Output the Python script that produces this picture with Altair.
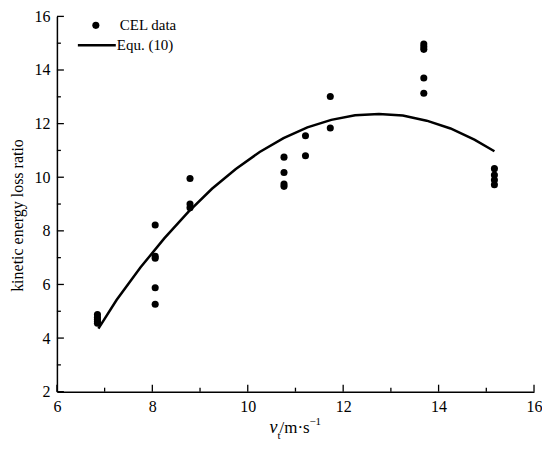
import altair as alt
import pandas as pd

# CEL data points
cel_x = [6.85, 6.85, 6.85, 6.85, 6.85,
         8.06, 8.06, 8.06, 8.06, 8.06,
         8.79, 8.79, 8.79,
         10.76, 10.76, 10.76, 10.76,
         11.21, 11.21,
         11.73, 11.73,
         13.69, 13.69, 13.69, 13.69, 13.69,
         15.17, 15.17, 15.17, 15.17]
cel_y = [4.88, 4.78, 4.70, 4.62, 4.55,
         8.22, 7.05, 6.98, 5.88, 5.26,
         9.95, 9.00, 8.86,
         10.75, 10.18, 9.75, 9.66,
         11.55, 10.80,
         13.01, 11.84,
         14.97, 14.87, 14.77, 13.70, 13.13,
         10.32, 10.08, 9.90, 9.72]

# Equ. (10) curve
equ_x = [6.87, 7.25, 7.75, 8.25, 8.75, 9.25, 9.75, 10.25, 10.75, 11.25,
         11.75, 12.25, 12.75, 13.25, 13.75, 14.25, 14.75, 15.17]
equ_y = [4.35, 5.42, 6.63, 7.72, 8.70, 9.57, 10.31, 10.94, 11.46, 11.86,
         12.14, 12.31, 12.36, 12.30, 12.11, 11.82, 11.40, 10.97]

# axis tick values
x_major = [6, 8, 10, 12, 14, 16]
x_minor = [7, 9, 11, 13, 15]
y_major = [2, 4, 6, 8, 10, 12, 14, 16]
y_minor = [3, 5, 7, 9, 11, 13, 15]

# legend labels and x-axis title pieces (v, subscript t, unit, superscript)
legend_labels = ["CEL data", "Equ. (10)"]
x_title_parts = ["v", "t", "/m·s", "−1"]
YT = "kinetic energy loss ratio"

W, H = 478, 376
FONT = "Liberation Serif"

xscale = alt.Scale(domain=[6, 16], nice=False, zero=False)
yscale = alt.Scale(domain=[2, 16], nice=False, zero=False)

xaxis = alt.Axis(values=x_major, format="d", ticks=False, tickSize=0, labelPadding=7,
                 labelFlush=False)
yaxis = alt.Axis(values=y_major, format="d", ticks=False, tickSize=0, labelPadding=7,
                 titlePadding=8, titleFontSize=16, titleY=199, labelFlush=False)

cel = pd.DataFrame({"x": cel_x, "y": cel_y})
equ = pd.DataFrame({"x": equ_x, "y": equ_y})

points = alt.Chart(cel).mark_circle(color="black", size=50, opacity=1).encode(
    x=alt.X("x:Q", scale=xscale, axis=xaxis, title=None),
    y=alt.Y("y:Q", scale=yscale, axis=yaxis, title=YT),
)

line = alt.Chart(equ).mark_line(color="black", strokeWidth=2.5).encode(
    x=alt.X("x:Q", scale=xscale, title=None),
    y=alt.Y("y:Q", scale=yscale, title=YT),
)

def xticks(vals, length):
    return alt.Chart(pd.DataFrame({"x": vals})).mark_rule(color="black", strokeWidth=1.3).encode(
        x=alt.X("x:Q", scale=xscale, title=None),
        y=alt.value(H),
        y2=alt.value(H - length),
    )

def yticks(vals, length):
    return alt.Chart(pd.DataFrame({"y": vals})).mark_rule(color="black", strokeWidth=1.3).encode(
        y=alt.Y("y:Q", scale=yscale, title=YT),
        x=alt.value(0),
        x2=alt.value(length),
    )

def label(text, px, py, size=15, style="normal"):
    return alt.Chart(pd.DataFrame({"label": [text]})).mark_text(
        font=FONT, fontSize=size, fontStyle=style, align="left",
        baseline="alphabetic", color="black").encode(
        x=alt.value(px), y=alt.value(py), text="label:N")

# legend (drawn inside the plot, top-left)
leg_df = pd.DataFrame({"label": legend_labels})
leg_dot = alt.Chart(leg_df.iloc[[0]]).mark_circle(color="black", size=50, opacity=1).encode(
    x=alt.value(39), y=alt.value(9))
leg_line = alt.Chart(leg_df.iloc[[1]]).mark_rule(color="black", strokeWidth=2.5).encode(
    x=alt.value(21), x2=alt.value(59), y=alt.value(29))
leg_t1 = label(legend_labels[0], 63, 14)
leg_t2 = label(legend_labels[1], 60, 34)

# x-axis title: italic v, subscript t, unit, superscript -1
xt_v = label(x_title_parts[0], 213, 417, size=18, style="italic")
xt_t = label(x_title_parts[1], 221, 423, size=11)
xt_u = label(x_title_parts[2], 223, 417, size=17)
xt_s = label(x_title_parts[3], 253, 409, size=11)

chart = alt.layer(
    xticks(x_major, 7), xticks(x_minor, 4), yticks(y_major, 7), yticks(y_minor, 4),
    line, points, leg_dot, leg_line, leg_t1, leg_t2, xt_v, xt_t, xt_u, xt_s,
).properties(
    width=W, height=H,
    padding={"left": 49, "top": 8, "right": 8, "bottom": 50},
    autosize="none",
    background="white",
).configure_view(stroke=None).configure_axis(
    domainColor="black", domainWidth=1.5, grid=False,
    labelFont=FONT, labelFontSize=16, labelColor="black",
    titleFont=FONT, titleFontWeight="normal", titleColor="black",
)

chart.save("out.html", embed_options={"renderer": "svg", "actions": False})
